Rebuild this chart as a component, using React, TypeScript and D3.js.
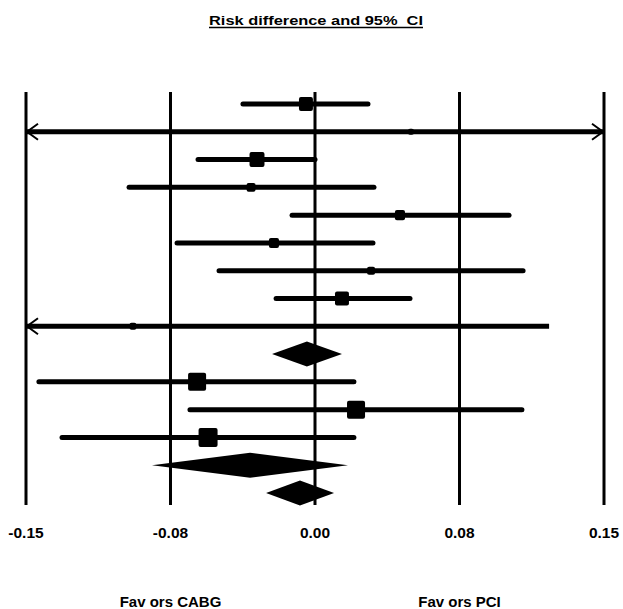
import React from "react";
import * as d3 from "d3";

// ---- data (risk difference, 95% CI, relative weight) ----
const rowKinds = [
  "study", "study", "study", "study", "study", "study", "study", "study", "study",
  "summary",
  "study", "study", "study",
  "summary",
  "summary",
];
const estimates = [-0.0047, 0.0498, -0.0301, -0.0332, 0.0441, -0.0213, 0.0291, 0.014, -0.0945, -0.0042, -0.0612, 0.0213, -0.0555, -0.0337, -0.0078];
const lowers = [-0.0374, -0.18, -0.0607, -0.0965, -0.0119, -0.0716, -0.0498, -0.0202, -0.17, -0.0223, -0.1433, -0.0649, -0.1313, -0.0846, -0.0254];
const uppers = [0.0275, 0.21, 0.0, 0.0306, 0.1007, 0.0301, 0.108, 0.0493, 0.1215, 0.014, 0.0202, 0.1074, 0.0202, 0.0171, 0.0099];
const weights = [54, 10, 62, 22, 28, 28, 18, 54, 13, 0, 90, 90, 100, 0, 0];

const tickValues = [-0.15, -0.075, 0, 0.075, 0.15];
const tickLabels = ["-0.15", "-0.08", "0.00", "0.08", "0.15"];
const titleText = "Risk difference and 95%  CI";
const favorLabels = ["Fav ors CABG", "Fav ors PCI"];
const favorPositions = [-0.075, 0.075];

const W = 623;
const H = 609;
const FONT = "'Liberation Sans', Arial, Helvetica, sans-serif";

export default function App() {
  const x = d3.scaleLinear().domain([-0.15, 0.15]).range([26, 604]);
  const y = d3.scalePoint<number>().domain(d3.range(estimates.length)).range([104, 493]);
  const size = d3.scaleSqrt().domain([0, 100]).range([0, 19]);
  const [xmin, xmax] = x.domain();
  const gridTop = 92;
  const gridBottom = 505;
  const diamondHalf = 12.5;

  return (
    <svg
      width={W}
      height={H}
      viewBox={`0 0 ${W} ${H}`}
      style={{ position: "absolute", left: 0, top: 0, background: "#fff", display: "block" }}
    >
      <rect x={0} y={0} width={W} height={H} fill="#fff" />
      {/* title */}
      <text
        x={316}
        y={25}
        textAnchor="middle"
        fontFamily={FONT}
        fontWeight="bold"
        fontSize={13}
        textLength={214}
        lengthAdjust="spacingAndGlyphs"
        fill="#000"
        style={{ whiteSpace: "pre" }}
      >
        {titleText}
      </text>
      <line x1={209} x2={423} y1={27.5} y2={27.5} stroke="#000" strokeWidth={1.5} />

      {/* vertical reference lines */}
      {tickValues.map((t, i) => (
        <line key={"g" + i} x1={x(t)} x2={x(t)} y1={gridTop} y2={gridBottom} stroke="#000" strokeWidth={3} />
      ))}

      {/* rows */}
      {estimates.map((est, i) => {
        const cy = y(i) as number;
        if (rowKinds[i] === "summary") {
          const l = x(lowers[i]);
          const r = x(uppers[i]);
          const c = x(est);
          const path = d3.path();
          path.moveTo(l, cy);
          path.lineTo(c, cy - diamondHalf);
          path.lineTo(r, cy);
          path.lineTo(c, cy + diamondHalf);
          path.closePath();
          return <path key={"r" + i} d={path.toString()} fill="#000" />;
        }
        const loClip = lowers[i] < xmin;
        const hiClip = uppers[i] > xmax;
        const l = x(Math.max(lowers[i], xmin));
        const r = x(Math.min(uppers[i], xmax));
        const s = size(weights[i]);
        return (
          <g key={"r" + i}>
            <line x1={l} x2={r} y1={cy} y2={cy} stroke="#000" strokeWidth={5} strokeLinecap={loClip || hiClip ? "butt" : "round"} />
            {loClip && (
              <path d={`M${l + 12},${cy - 8}L${l + 1},${cy}L${l + 12},${cy + 8}`} fill="none" stroke="#000" strokeWidth={2} />
            )}
            {hiClip && (
              <path d={`M${r - 12},${cy - 8}L${r - 1},${cy}L${r - 12},${cy + 8}`} fill="none" stroke="#000" strokeWidth={2} />
            )}
            <rect x={x(est) - s / 2} y={cy - s / 2} width={s} height={s} rx={2} fill="#000" />
          </g>
        );
      })}

      {/* tick labels */}
      {tickValues.map((t, i) => (
        <text
          key={"t" + i}
          x={x(t)}
          y={538}
          textAnchor="middle"
          fontFamily={FONT}
          fontWeight="bold"
          fontSize={15.5}
          fill="#000"
        >
          {tickLabels[i]}
        </text>
      ))}

      {/* favours labels */}
      {favorLabels.map((lab, i) => (
        <text
          key={"f" + i}
          x={x(favorPositions[i])}
          y={607}
          textAnchor="middle"
          fontFamily={FONT}
          fontWeight="bold"
          fontSize={15}
          fill="#000"
          style={{ whiteSpace: "pre" }}
        >
          {lab}
        </text>
      ))}
    </svg>
  );
}
